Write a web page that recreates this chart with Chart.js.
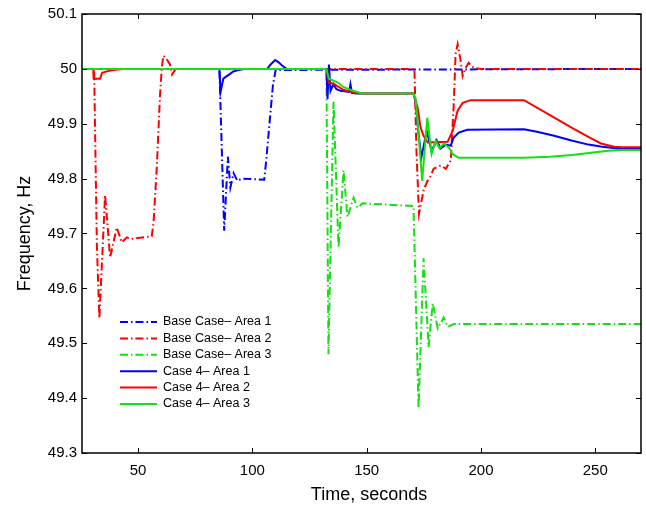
<!DOCTYPE html>
<html>
<head>
<meta charset="utf-8">
<title>Frequency response</title>
<script src="https://cdn.jsdelivr.net/npm/chart.js@4/dist/chart.umd.min.js"></script>
<style>
  html, body { margin: 0; padding: 0; background: #fff; }
</style>
</head>
<body>
<canvas id="freq" width="646" height="507"></canvas>
<script>
// axis ticks
const xTicks = [50, 100, 150, 200, 250];
const yTicks = [49.3, 49.4, 49.5, 49.6, 49.7, 49.8, 49.9, 50, 50.1];
const yTickLabels = ['49.3', '49.4', '49.5', '49.6', '49.7', '49.8', '49.9', '50', '50.1'];

const seriesNames = [
  'Base Case\u2013 Area 1', 'Base Case\u2013 Area 2', 'Base Case\u2013 Area 3',
  'Case 4\u2013 Area 1', 'Case 4\u2013 Area 2', 'Case 4\u2013 Area 3'
];

// base case, area 1
const base1T = [25.5, 85.6, 87.7, 89.3, 90.4, 91.8, 93.5, 95.5, 105.2, 106, 107.5, 109, 110.2, 270];
const base1F = [50, 50, 49.705, 49.84, 49.784, 49.81, 49.796, 49.80, 49.798, 49.83, 49.90, 49.97, 49.998, 50];

// base case, area 2
const base2T = [25.5, 30.8, 32.0, 33.1, 35.6, 37.8, 40.7, 42.9, 45.1, 47, 56.0, 56.8, 58.2, 59.6, 60.4, 61.1, 62.5, 64.0, 64.9, 66.5,
  170.9, 171.8, 172.9, 175.0, 176.5, 178.0, 179.3, 182.4, 184.6, 186.8, 188.1, 188.9, 189.8, 191.1, 192.0, 193.3, 194.6, 196.8, 199.9, 270];
const base2F = [50, 50, 49.68, 49.545, 49.77, 49.656, 49.711, 49.684, 49.693, 49.69, 49.695, 49.72, 49.82, 49.95, 50.002, 50.024, 50.018, 50.008, 49.99, 50,
  50, 49.85, 49.736, 49.78, 49.795, 49.805, 49.818, 49.824, 49.818, 49.833, 49.936, 50.027, 50.045, 50.015, 49.987, 50.002, 50.011, 50.002, 50, 50];

// base case, area 3
const base3T = [25.5, 132.4, 133.3, 135.5, 137.7, 139.9, 141.6, 144.3, 146.0, 148.2, 170.5, 172.7, 174.9, 177.1, 178.9, 181.1, 183.7, 185.5, 188.1, 270];
const base3F = [50, 50, 49.48, 49.94, 49.675, 49.815, 49.73, 49.765, 49.747, 49.755, 49.75, 49.382, 49.655, 49.493, 49.573, 49.527, 49.547, 49.53, 49.535, 49.535];

// case 4, area 1
const case1T = [25.5, 85.6, 86.1, 87.3, 88.2, 90, 91.5, 94, 97, 106.5, 108, 110, 111.5, 113, 115,
  132.4, 132.9, 133.5, 134.2, 135.5, 136.8, 138.6, 142.3, 142.9, 143.6, 146,
  170.5, 171.4, 172.5, 173.9, 176.3, 178.4, 180.6, 182.4, 184.6, 186.8, 188.1, 190.3, 194,
  218.8, 225, 232, 240, 247, 253, 260, 270];
const case1F = [50, 50, 49.958, 49.982, 49.985, 49.99, 49.995, 49.998, 50, 50, 50.008, 50.016, 50.012, 50.006, 50,
  50, 49.945, 50.008, 49.96, 49.972, 49.963, 49.96, 49.958, 49.972, 49.956, 49.955,
  49.955, 49.94, 49.89, 49.838, 49.887, 49.85, 49.87, 49.855, 49.862, 49.86, 49.875, 49.884, 49.889,
  49.89, 49.885, 49.878, 49.869, 49.862, 49.858, 49.855, 49.854];

// case 4, area 2
const case2T = [25.5, 30.4, 30.6, 33.4, 34.3, 36, 37.8, 41, 45,
  132.4, 133.5, 135.5, 139.8, 144.2, 148,
  170.5, 172.3, 173.6, 174.9, 176.7, 185.4, 187.6, 189.8, 192.0, 195.5,
  218.8, 230, 240, 248, 252.5, 258.2, 262, 270];
const case2F = [50, 50, 49.982, 49.982, 49.993, 49.995, 49.997, 49.999, 50,
  50, 49.975, 49.973, 49.962, 49.957, 49.955,
  49.955, 49.929, 49.893, 49.878, 49.866, 49.867, 49.887, 49.924, 49.938, 49.943,
  49.943, 49.916, 49.892, 49.874, 49.864, 49.858, 49.857, 49.857];

// case 4, area 3
const case3T = [25.5, 132.4, 133.5, 137.4, 139.8, 144.2, 148,
  170.5, 171.4, 172.7, 174.3, 176.5, 178.4, 180.2, 181.9, 183.7, 185.9, 187.6, 190.2,
  218.8, 230, 240, 250, 255.6, 262, 270];
const case3F = [50, 50, 49.982, 49.975, 49.967, 49.96, 49.955,
  49.955, 49.945, 49.882, 49.796, 49.911, 49.845, 49.869, 49.855, 49.864, 49.857, 49.845, 49.838,
  49.838, 49.84, 49.843, 49.848, 49.851, 49.852, 49.852];

const BLUE = '#0000ff', RED = '#ff0000', GREEN = '#14e014';
const dashDot = [8, 3, 1.5, 3];
const font = "'Liberation Sans', Arial, Helvetica, sans-serif";

function series(i, t, f, color, dashed) {
  return {
    label: seriesNames[i],
    data: t.map((x, k) => ({ x: x, y: f[k] })),
    borderColor: color,
    backgroundColor: color,
    borderWidth: 2,
    borderDash: dashed ? dashDot : [],
    pointRadius: 0,
    tension: 0,
    fill: false,
    order: 6 - i   // later series drawn on top
  };
}

const datasets = [
  series(0, base1T, base1F, BLUE, true),
  series(1, base2T, base2F, RED, true),
  series(2, base3T, base3F, GREEN, true),
  series(3, case1T, case1F, BLUE, false),
  series(4, case2T, case2F, RED, false),
  series(5, case3T, case3F, GREEN, false)
];

// box, inward ticks, legend and axis titles
const axesBox = {
  id: 'axesBox',
  afterDraw(chart) {
    const { ctx, chartArea: a, scales } = chart;
    const xs = scales.x, ys = scales.y;
    ctx.save();
    ctx.strokeStyle = '#000';
    ctx.lineWidth = 1.5;
    ctx.setLineDash([]);
    ctx.strokeRect(a.left, a.top, a.right - a.left, a.bottom - a.top);

    ctx.lineWidth = 1;
    ctx.beginPath();
    xTicks.forEach(v => {
      const px = Math.round(xs.getPixelForValue(v)) + 0.5;
      ctx.moveTo(px, a.bottom); ctx.lineTo(px, a.bottom - 5);
      ctx.moveTo(px, a.top); ctx.lineTo(px, a.top + 5);
    });
    yTicks.forEach(v => {
      const py = Math.round(ys.getPixelForValue(v)) + 0.5;
      ctx.moveTo(a.left, py); ctx.lineTo(a.left + 5, py);
      ctx.moveTo(a.right, py); ctx.lineTo(a.right - 5, py);
    });
    ctx.stroke();

    // legend
    ctx.font = '12.5px ' + font;
    ctx.textBaseline = 'middle';
    ctx.textAlign = 'left';
    ctx.fillStyle = '#000';
    chart.data.datasets.forEach((ds, i) => {
      const y = 322 + i * 16.4;
      ctx.strokeStyle = ds.borderColor;
      ctx.lineWidth = 2;
      ctx.setLineDash(ds.borderDash);
      ctx.beginPath();
      ctx.moveTo(120, y); ctx.lineTo(157, y);
      ctx.stroke();
      ctx.fillText(ds.label, 163, y);
    });

    // axis titles
    ctx.setLineDash([]);
    ctx.font = '18px ' + font;
    ctx.textAlign = 'center';
    ctx.fillText('Time, seconds', 369, 495);
    ctx.translate(25, (a.top + a.bottom) / 2);
    ctx.rotate(-Math.PI / 2);
    ctx.fillText('Frequency, Hz', 0, 0);
    ctx.restore();
  }
};

new Chart(document.getElementById('freq'), {
  type: 'line',
  data: { datasets: datasets },
  plugins: [axesBox],
  options: {
    responsive: false,
    animation: false,
    events: [],
    layout: { padding: { top: 13, right: 5, left: 0, bottom: 0 } },
    plugins: {
      legend: { display: false },
      tooltip: { enabled: false },
      title: { display: false }
    },
    scales: {
      x: {
        type: 'linear',
        min: 25.5,
        max: 270,
        grid: { display: false, drawTicks: false },
        border: { display: false },
        afterBuildTicks: s => { s.ticks = xTicks.map(v => ({ value: v })); },
        afterFit: s => { s.height = 54; },
        ticks: {
          padding: 9,
          color: '#000',
          maxRotation: 0,
          font: { family: font, size: 15 },
          callback: v => String(v)
        }
      },
      y: {
        type: 'linear',
        min: 49.3,
        max: 50.1,
        grid: { display: false, drawTicks: false },
        border: { display: false },
        afterBuildTicks: s => { s.ticks = yTicks.map(v => ({ value: v })); },
        afterFit: s => { s.width = 82; },
        ticks: {
          padding: 5,
          color: '#000',
          font: { family: font, size: 15 },
          callback: (v, i) => yTickLabels[i]
        }
      }
    }
  }
});
</script>
</body>
</html>
